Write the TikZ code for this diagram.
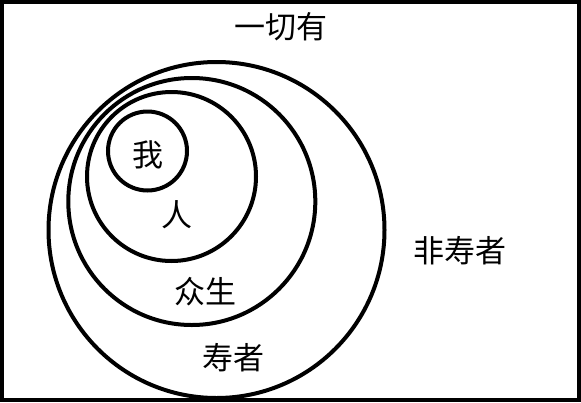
\documentclass[tikz,border=0pt]{standalone}
\usepackage{fontspec}
\newfontfamily\cjk{Noto Sans CJK SC}
\tikzset{
  ring/.style={line width=4pt,draw=black},
  word/.style={font=\cjk\fontsize{31}{31}\selectfont,inner sep=0pt}
}
\begin{document}
\begin{tikzpicture}[x=1pt,y=-1pt]
          \useasboundingbox (0,0) rectangle (581,402);
          \draw[ring] (2,2) rectangle (579,400);
          \node[word] (all) at (281,27) {一切有};
          \node[word] (nonlife) at (459.5,250.5) {非寿者};
          \draw[ring] (216.5,230) circle (168pt);
          \draw[ring] (191.8,201.5) circle (123.5pt);
          \draw[ring] (171.5,176.5) circle (84.5pt);
          \draw[ring] (147.5,151) circle (39.5pt);
          \node[word] (me) at (147.5,155) {我};
          \node[word] (person) at (177,215) {人};
          \node[word] (beings) at (205,292) {众生};
          \node[word] (life) at (233,358) {寿者};
      \end{tikzpicture}
\end{document}
